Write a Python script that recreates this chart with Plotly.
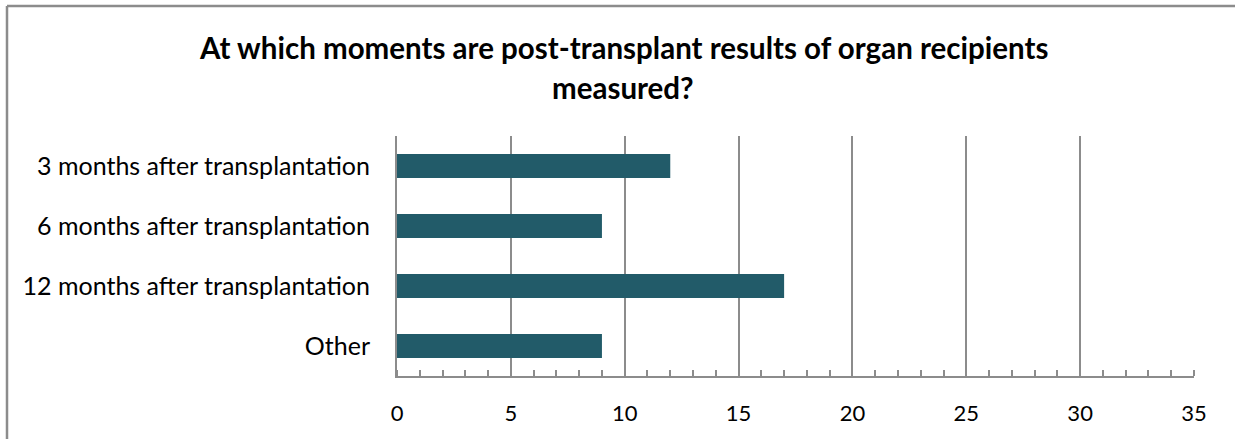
import plotly.graph_objects as go

categories = ["3 months after transplantation", "6 months after transplantation",
              "12 months after transplantation", "Other"]
values = [12, 9, 17, 9]
x_ticks = [0, 5, 10, 15, 20, 25, 30, 35]
title_lines = ["At which moments are post-transplant results of organ recipients", "measured?"]

W, H = 1235, 439
L, R, T, B = 397, 1194, 136, 376  # plot area pixels

def px(x):
    return (x - L) / (R - L)

def py(y):
    return (B - y) / (B - T)

font = "Lato, 'Open Sans', sans-serif"
grid = "#8c8c8c"

fig = go.Figure(go.Bar(
    y=categories, x=values, orientation="h",
    marker=dict(color="#225B69", line=dict(width=0)),
))

fig.update_layout(
    width=W, height=H,
    margin=dict(l=L, r=W - R, t=T, b=H - B, pad=0),
    paper_bgcolor="white", plot_bgcolor="white",
    bargap=0.6,
    showlegend=False,
    font=dict(family=font, size=22, color="black"),
    xaxis=dict(
        range=[0, 35], tickvals=x_ticks, ticktext=[str(v) for v in x_ticks],
        showgrid=True, gridcolor=grid, gridwidth=1.5,
        showline=True, linecolor=grid, linewidth=2,
        ticks="", ticklabelstandoff=17,
        minor=dict(dtick=1, ticks="inside", ticklen=6, tickcolor=grid, tickwidth=1.5, showgrid=False),
        zeroline=False, fixedrange=True,
        tickfont=dict(size=22, color="black"),
    ),
    yaxis=dict(
        autorange="reversed", categoryorder="array", categoryarray=categories,
        showline=True, linecolor=grid, linewidth=2, showgrid=False,
        ticks="", ticklabelstandoff=20, zeroline=False, fixedrange=True,
        tickfont=dict(size=25, color="black"),
    ),
    shapes=[
        dict(type="line", xref="paper", yref="paper", x0=px(7), x1=px(7), y0=py(6), y1=py(460),
             line=dict(color="#8c8c8c", width=2.5)),
        dict(type="line", xref="paper", yref="paper", x0=px(7), x1=px(1260), y0=py(6), y1=py(6),
             line=dict(color="#8c8c8c", width=2.5)),
    ],
    annotations=[
        dict(text="<b>" + title_lines[0] + "</b>", xref="paper", yref="paper",
             x=px(623), y=py(47), xanchor="center", yanchor="middle", showarrow=False,
             font=dict(size=29.5, family=font)),
        dict(text="<b>" + title_lines[1] + "</b>", xref="paper", yref="paper",
             x=px(623), y=py(87), xanchor="center", yanchor="middle", showarrow=False,
             font=dict(size=29.5, family=font)),
    ],
)

fig.write_html("out.html", config={"displayModeBar": False},
               post_script="document.body.style.margin='0';document.body.style.overflow='hidden';")
